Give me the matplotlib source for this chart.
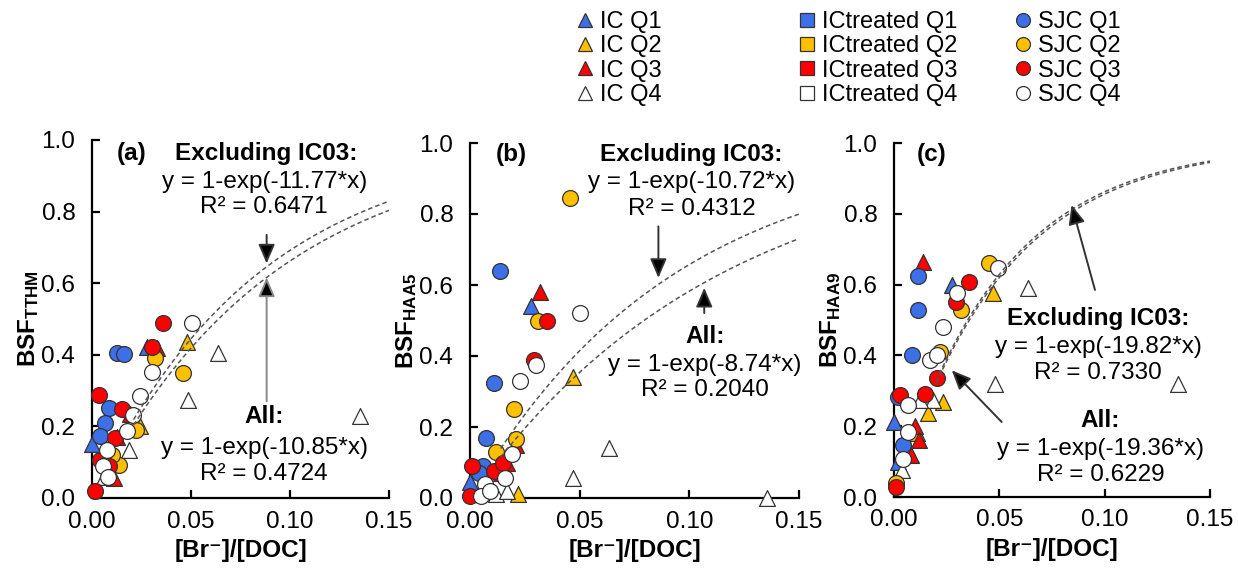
import numpy as np
import matplotlib
matplotlib.use("Agg")
import matplotlib.pyplot as plt
from matplotlib.lines import Line2D

plt.rcParams['font.family'] = ['Liberation Sans', 'DejaVu Sans']
plt.rcParams['mathtext.fontset'] = 'custom'
plt.rcParams['mathtext.bf'] = 'Liberation Sans:bold'
plt.rcParams['mathtext.rm'] = 'Liberation Sans'

# ---------------- data ----------------
series_names = ["IC Q1", "IC Q2", "IC Q3", "IC Q4",
                "ICtreated Q1", "ICtreated Q2", "ICtreated Q3", "ICtreated Q4",
                "SJC Q1", "SJC Q2", "SJC Q3", "SJC Q4"]
quarter_colors = ["#3D6FE6", "#FFC000", "#FF0000", "#FFFFFF"]

# Panel (a) BSF_TTHM
thm_ic_x = [[0.000, 0.0277], [0.0479, 0.0244, 0.012], [0.0328, 0.0109, 0.0125, 0.019],
            [0.0638, 0.0487, 0.1352, 0.0185, 0.006]]
thm_ic_y = [[0.150, 0.423], [0.437, 0.200, 0.110], [0.419, 0.056, 0.170, 0.235],
            [0.405, 0.274, 0.228, 0.135, 0.060]]
thm_sjc_x = [[0.0126, 0.016, 0.0084, 0.0067, 0.0042],
             [0.0319, 0.0459, 0.0134, 0.022, 0.010],
             [0.0361, 0.0302, 0.0034, 0.0151, 0.0017, 0.0118, 0.004, 0.0085],
             [0.0504, 0.0302, 0.024, 0.0207, 0.0176, 0.0076, 0.0055, 0.008]]
thm_sjc_y = [[0.405, 0.402, 0.251, 0.209, 0.172],
             [0.391, 0.349, 0.093, 0.190, 0.120],
             [0.488, 0.423, 0.288, 0.248, 0.019, 0.167, 0.107, 0.090],
             [0.488, 0.353, 0.284, 0.233, 0.186, 0.135, 0.088, 0.060]]

# Panel (b) BSF_HAA5
haa5_ic_x = [[0.028, 0.000], [0.047, 0.022], [0.032, 0.021, 0.017, 0.014],
             [0.0635, 0.047, 0.1355, 0.012, 0.017]]
haa5_ic_y = [[0.540, 0.045], [0.340, 0.010], [0.580, 0.150, 0.100, 0.070],
             [0.140, 0.055, 0.000, 0.010, 0.020]]
haa5_sjc_x = [[0.0135, 0.011, 0.0075, 0.006, 0.004],
              [0.0455, 0.031, 0.020, 0.021, 0.012],
              [0.035, 0.029, 0.001, 0.011, 0.000, 0.015],
              [0.050, 0.030, 0.023, 0.019, 0.016, 0.007, 0.005, 0.009]]
haa5_sjc_y = [[0.640, 0.325, 0.170, 0.090, 0.070],
              [0.845, 0.500, 0.250, 0.165, 0.130],
              [0.500, 0.390, 0.090, 0.075, 0.005, 0.100],
              [0.520, 0.375, 0.330, 0.125, 0.055, 0.040, 0.005, 0.020]]

# Panel (c) BSF_HAA9
haa9_ic_x = [[0.0274, 0.000, 0.002], [0.0472, 0.0234, 0.0163, 0.011],
             [0.0136, 0.010, 0.012, 0.008],
             [0.0638, 0.048, 0.135, 0.0187, 0.0123, 0.0036]]
haa9_ic_y = [[0.600, 0.212, 0.100], [0.575, 0.269, 0.236, 0.180],
             [0.665, 0.200, 0.160, 0.120],
             [0.590, 0.320, 0.320, 0.274, 0.274, 0.075]]
haa9_sjc_x = [[0.0116, 0.0116, 0.0084, 0.002, 0.0044],
              [0.0453, 0.032, 0.0218, 0.001],
              [0.0356, 0.0294, 0.0203, 0.0147, 0.0028, 0.001],
              [0.0495, 0.030, 0.0234, 0.0171, 0.0203, 0.0068, 0.0068, 0.0044]]
haa9_sjc_y = [[0.623, 0.528, 0.400, 0.283, 0.146],
              [0.660, 0.528, 0.410, 0.040],
              [0.608, 0.552, 0.335, 0.292, 0.288, 0.028],
              [0.646, 0.575, 0.481, 0.387, 0.400, 0.259, 0.184, 0.108]]

# fitted coefficients: (excluding IC03, all)
k_thm = [11.77, 10.85]
k_haa5 = [10.72, 8.74]
k_haa9 = [19.82, 19.36]
r2_thm = ["0.6471", "0.4724"]
r2_haa5 = ["0.4312", "0.2040"]
r2_haa9 = ["0.7330", "0.6229"]

# ---------------- figure ----------------
W, H = 1238, 576
fig = plt.figure(figsize=(W / 100, H / 100), dpi=100)

def px_axes(l, t, r, b):
    return fig.add_axes([l / W, 1 - b / H, (r - l) / W, (b - t) / H])

FS = 17.5
edge = "#333333"

def style(ax, ylabel):
    ax.set_xlim(0, 0.15)
    ax.set_ylim(0, 1.0)
    ax.set_xticks([0.0, 0.05, 0.10, 0.15])
    ax.set_xticklabels(["0.00", "0.05", "0.10", "0.15"])
    ax.set_yticks([0.0, 0.2, 0.4, 0.6, 0.8, 1.0])
    ax.set_yticklabels(["0.0", "0.2", "0.4", "0.6", "0.8", "1.0"])
    for s in ["top", "right"]:
        ax.spines[s].set_visible(False)
    for s in ["left", "bottom"]:
        ax.spines[s].set_linewidth(1.6)
    ax.tick_params(axis="both", direction="in", length=6, width=1.6, labelsize=FS)
    ax.tick_params(axis="y", pad=12)
    ax.tick_params(axis="x", pad=9)
    ax.set_xlabel("[Br\u207b]/[DOC]", fontsize=FS, fontweight="bold", labelpad=5)
    ax.set_ylabel(ylabel, fontsize=FS, labelpad=0)
    ax.patch.set_alpha(0)

def scatter_all(ax, icx, icy, sjcx, sjcy):
    for i in range(4):
        ax.scatter(icx[i], icy[i], marker="^", s=130, facecolor=quarter_colors[i],
                   edgecolor=edge, linewidth=0.9, zorder=3, clip_on=False)
    for i in range(4):
        ax.scatter(sjcx[i], sjcy[i], marker="o", s=130, facecolor=quarter_colors[i],
                   edgecolor=edge, linewidth=0.9, zorder=3, clip_on=False)

def curves(ax, ks, x0):
    xs = np.linspace(x0, 0.15, 200)
    for k in ks:
        ax.plot(xs, 1 - np.exp(-k * xs), ls=(0, (3, 2)), color="#555555", lw=1.1, zorder=4)

def arrow(ax, start, end, shaft="#111111"):
    ax.annotate("", xy=end, xytext=start,
                arrowprops=dict(arrowstyle="-|>,head_length=0.65,head_width=0.28", lw=1.4,
                                mutation_scale=18,
                                edgecolor=shaft, facecolor="black", shrinkA=0, shrinkB=0),
                zorder=5)

def txt(ax, x, y, s, bold=False):
    ax.text(x, y, s, ha="center", va="center", fontsize=FS,
            fontweight="bold" if bold else "normal", zorder=6)

# ---- panel a
axa = px_axes(92, 140, 389, 498)
style(axa, r"$\mathbf{BSF_{TTHM}}$")
scatter_all(axa, thm_ic_x, thm_ic_y, thm_sjc_x, thm_sjc_y)
curves(axa, k_thm, 0.021)
txt(axa, 0.020, 0.962, "(a)", True)
txt(axa, 0.088, 0.962, "Excluding IC03:", True)
txt(axa, 0.087, 0.884, "y = 1-exp(-%.2f*x)" % k_thm[0])
txt(axa, 0.087, 0.812, "R\u00b2 = " + r2_thm[0])
txt(axa, 0.087, 0.228, "All:", True)
txt(axa, 0.087, 0.140, "y = 1-exp(-%.2f*x)" % k_thm[1])
txt(axa, 0.087, 0.068, "R\u00b2 = " + r2_thm[1])
arrow(axa, (0.0882, 0.735), (0.0882, 0.655), shaft="#333333")
arrow(axa, (0.0882, 0.270), (0.0882, 0.616), shaft="#888888")

# ---- panel b
axb = px_axes(470, 143, 799, 498)
style(axb, r"$\mathbf{BSF_{HAA5}}$")
scatter_all(axb, haa5_ic_x, haa5_ic_y, haa5_sjc_x, haa5_sjc_y)
curves(axb, k_haa5, 0.014)
txt(axb, 0.019, 0.968, "(b)", True)
txt(axb, 0.101, 0.968, "Excluding IC03:", True)
txt(axb, 0.101, 0.890, "y = 1-exp(-%.2f*x)" % k_haa5[0])
txt(axb, 0.101, 0.815, "R\u00b2 = " + r2_haa5[0])
txt(axb, 0.107, 0.455, "All:", True)
txt(axb, 0.107, 0.376, "y = 1-exp(-%.2f*x)" % k_haa5[1])
txt(axb, 0.107, 0.303, "R\u00b2 = " + r2_haa5[1])
arrow(axb, (0.0859, 0.765), (0.0859, 0.620), shaft="#333333")
arrow(axb, (0.1068, 0.521), (0.1068, 0.592), shaft="#333333")

# ---- panel c
axc = px_axes(894, 143, 1210, 497)
style(axc, r"$\mathbf{BSF_{HAA9}}$")
scatter_all(axc, haa9_ic_x, haa9_ic_y, haa9_sjc_x, haa9_sjc_y)
curves(axc, k_haa9, 0.020)
txt(axc, 0.0179, 0.968, "(c)", True)
txt(axc, 0.097, 0.505, "Excluding IC03:", True)
txt(axc, 0.097, 0.425, "y = 1-exp(-%.2f*x)" % k_haa9[0])
txt(axc, 0.097, 0.349, "R\u00b2 = " + r2_haa9[0])
txt(axc, 0.098, 0.217, "All:", True)
txt(axc, 0.098, 0.137, "y = 1-exp(-%.2f*x)" % k_haa9[1])
txt(axc, 0.098, 0.061, "R\u00b2 = " + r2_haa9[1])
arrow(axc, (0.0954, 0.585), (0.0843, 0.825), shaft="#333333")
arrow(axc, (0.0511, 0.212), (0.0274, 0.358), shaft="#333333")

# ---- legend (three columns)
markers = ["^", "s", "o"]
col_left = [576, 798, 1014]
for c in range(3):
    handles = [Line2D([], [], ls="none", marker=markers[c], markersize=10,
                      markerfacecolor=quarter_colors[i], markeredgecolor=edge,
                      markeredgewidth=0.9) for i in range(4)]
    labels = series_names[c * 4:(c + 1) * 4]
    fig.legend(handles, labels, loc="upper left",
               bbox_to_anchor=(col_left[c] / W, 1 - 11 / H),
               frameon=False, fontsize=17, handlelength=0.8, handletextpad=0.2,
               labelspacing=0.1, borderpad=0, borderaxespad=0)

fig.savefig("out.png", dpi=100)
